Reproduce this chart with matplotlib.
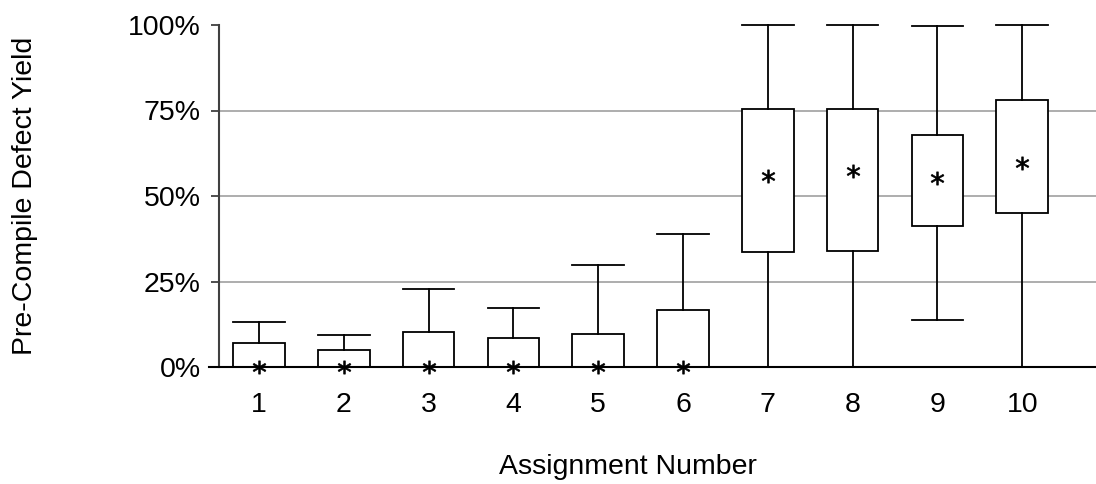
import matplotlib
matplotlib.use("Agg")
import matplotlib.pyplot as plt

plt.rcParams['font.family'] = ['Liberation Sans', 'DejaVu Sans']

# (fractions of 1)
assignments = [1, 2, 3, 4, 5, 6, 7, 8, 9, 10]
whisker_low = [0, 0, 0, 0, 0, 0, 0, 0, 0.137, 0]
q1 = [0, 0, 0, 0, 0, 0, 0.335, 0.338, 0.411, 0.450]
q3 = [0.071, 0.049, 0.102, 0.084, 0.097, 0.167, 0.755, 0.753, 0.677, 0.782]
whisker_high = [0.132, 0.095, 0.228, 0.173, 0.298, 0.389, 1.0, 1.0, 0.998, 1.0]
means = [0, 0, 0, 0, 0, 0, 0.559, 0.573, 0.554, 0.597]
ytick_vals = [0, 0.25, 0.5, 0.75, 1.0]
ytick_labels = ['0%', '25%', '50%', '75%', '100%']

stats = []
for i in range(len(assignments)):
    stats.append({'whislo': whisker_low[i], 'q1': q1[i], 'med': q1[i],
                  'q3': q3[i], 'whishi': whisker_high[i], 'mean': means[i],
                  'fliers': [], 'label': str(assignments[i])})

fig = plt.figure(figsize=(10.96, 4.84), dpi=100)
ax = fig.add_axes([219/1096, 1 - 367/484, 1 - 219/1096, (367 - 25)/484])

for y in ytick_vals[1:-1]:
    ax.axhline(y, color='#a0a0a0', lw=1.2, zorder=0)

art = ax.bxp(stats, positions=assignments, widths=0.61, showmeans=True,
             patch_artist=True, manage_ticks=False,
             boxprops=dict(facecolor='white', edgecolor='black', lw=1.3),
             whiskerprops=dict(color='black', lw=1.3),
             capprops=dict(color='black', lw=1.3),
             capwidths=0.61,
             medianprops=dict(visible=False),
             meanprops=dict(marker='$*$', markerfacecolor='black',
                            markeredgecolor='black', markeredgewidth=0.5,
                            markersize=9.5, lw=0))
for k in art:
    for a in art[k]:
        a.set_clip_on(False)

ax.set_xlim(0.528, 10.87)
ax.set_ylim(0, 1)
ax.set_yticks(ytick_vals)
ax.set_yticklabels(ytick_labels)
ax.set_xticks(assignments)
ax.set_xticklabels([str(a) for a in assignments])
ax.tick_params(axis='y', direction='out', length=6, width=1.3, color='#404040',
               labelsize=20.5, pad=7)
ax.tick_params(axis='x', length=0, labelsize=20.5, pad=18)

for s in ['top', 'right']:
    ax.spines[s].set_visible(False)
ax.spines['left'].set_color('#404040')
ax.spines['left'].set_linewidth(1.5)
ax.spines['bottom'].set_color('black')
ax.spines['bottom'].set_linewidth(1.5)
ax.spines['bottom'].set_bounds(0.41, 10.87)

ax.set_xlabel('Assignment Number', fontsize=20.5)
ax.xaxis.set_label_coords(0.466, -0.255)
ax.set_ylabel('Pre-Compile Defect Yield', fontsize=20.5)
ax.yaxis.set_label_coords(-0.206, 0.5)

fig.savefig('out.png', dpi=100)
